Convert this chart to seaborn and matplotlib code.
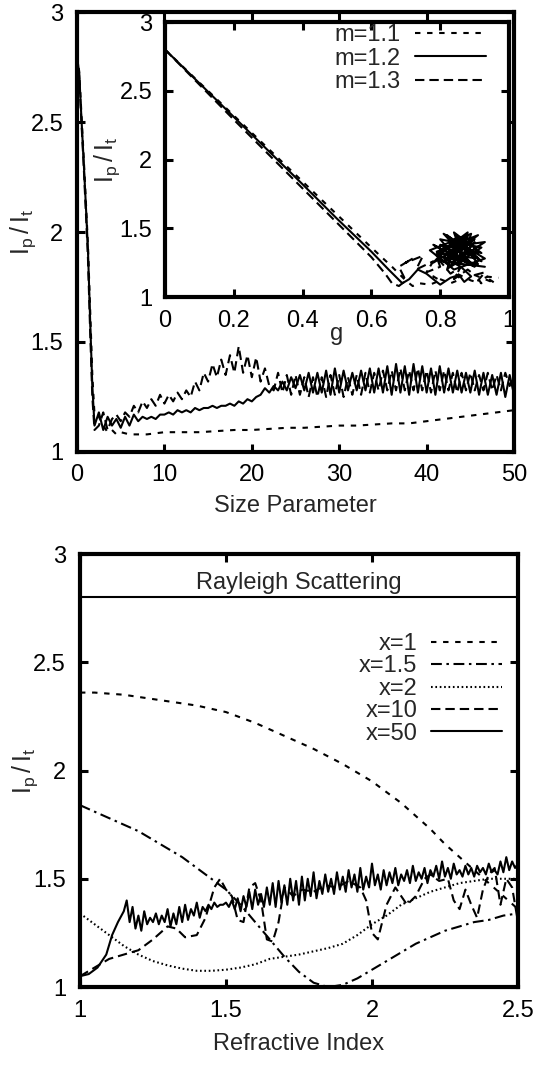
import numpy as np
import matplotlib
matplotlib.use("Agg")
import matplotlib.pyplot as plt
import seaborn as sns
from matplotlib.ticker import FuncFormatter

# ---- top panel: Ip/It vs size parameter ----
size_head = [0, 0.25, 0.5, 0.75, 1.0, 1.25, 1.5, 1.75, 2.0]
head_m11 = [2.80, 2.73, 2.54, 2.35, 2.15, 1.94, 1.65, 1.35, 1.17]
head_m12 = [2.80, 2.72, 2.52, 2.33, 2.13, 1.92, 1.60, 1.30, 1.12]
head_m13 = [2.80, 2.71, 2.50, 2.31, 2.10, 1.88, 1.55, 1.25, 1.10]

size_m11 = [2.5, 3, 3.5, 4, 4.5, 5, 6, 7, 8, 10, 12, 14, 16, 18, 20, 22, 24, 26,
            28, 30, 32, 34, 36, 38, 40, 42, 44, 46, 48, 50]
tail_m11 = [1.16, 1.12, 1.09, 1.10, 1.08, 1.09, 1.08, 1.08, 1.08, 1.09, 1.09, 1.09,
            1.095, 1.10, 1.10, 1.105, 1.11, 1.11, 1.115, 1.12, 1.12, 1.125, 1.13,
            1.13, 1.14, 1.15, 1.16, 1.17, 1.18, 1.19]

size_grid = np.arange(5, 101) / 2.0   # 2.5 ... 50, step 0.5
tail_m12 = [1.18, 1.10, 1.16, 1.12, 1.15, 1.11, 1.16, 1.12, 1.17, 1.14,
            1.16, 1.15, 1.16, 1.15, 1.17, 1.17, 1.18, 1.17, 1.19, 1.18,
            1.19, 1.18, 1.20, 1.19, 1.20, 1.20, 1.21, 1.20, 1.21, 1.21,
            1.22, 1.21, 1.23, 1.22, 1.24, 1.23, 1.25, 1.26, 1.29, 1.27,
            1.30, 1.28, 1.32, 1.28, 1.34, 1.29, 1.35, 1.28, 1.36, 1.27,
            1.36, 1.27, 1.37, 1.26, 1.38, 1.27, 1.37, 1.28, 1.36, 1.28,
            1.37, 1.28, 1.38, 1.27, 1.38, 1.27, 1.39, 1.26, 1.40, 1.27,
            1.39, 1.26, 1.40, 1.27, 1.39, 1.27, 1.38, 1.26, 1.39, 1.27,
            1.38, 1.27, 1.37, 1.27, 1.36, 1.27, 1.37, 1.26, 1.36, 1.26,
            1.35, 1.26, 1.36, 1.25, 1.35, 1.26]
tail_m13 = [1.12, 1.18, 1.10, 1.15, 1.17, 1.14, 1.18, 1.16, 1.21, 1.18,
            1.23, 1.20, 1.24, 1.21, 1.26, 1.22, 1.26, 1.23, 1.27, 1.24,
            1.28, 1.25, 1.32, 1.28, 1.36, 1.32, 1.40, 1.34, 1.42, 1.35,
            1.44, 1.36, 1.48, 1.36, 1.44, 1.34, 1.43, 1.32, 1.38, 1.30,
            1.28, 1.36, 1.27, 1.35, 1.26, 1.35, 1.26, 1.34, 1.25, 1.34,
            1.25, 1.34, 1.25, 1.35, 1.26, 1.35, 1.25, 1.34, 1.26, 1.35,
            1.26, 1.36, 1.27, 1.36, 1.28, 1.37, 1.28, 1.37, 1.28, 1.38,
            1.28, 1.37, 1.28, 1.38, 1.28, 1.37, 1.27, 1.37, 1.28, 1.37,
            1.28, 1.36, 1.27, 1.36, 1.28, 1.36, 1.28, 1.35, 1.28, 1.36,
            1.28, 1.35, 1.28, 1.36, 1.30, 1.35]

# ---- inset: Ip/It vs asymmetry parameter g ----
g_m11 = [0, 0.2, 0.4, 0.5, 0.6, 0.66, 0.70, 0.72, 0.74, 0.77, 0.80, 0.78, 0.83,
         0.86, 0.84, 0.89, 0.92, 0.90, 0.94, 0.96, 0.93, 0.97]
ip_m11 = [2.80, 2.32, 1.84, 1.60, 1.36, 1.22, 1.12, 1.08, 1.10, 1.09, 1.12, 1.15,
          1.10, 1.13, 1.18, 1.12, 1.10, 1.16, 1.12, 1.10, 1.15, 1.14]
g_m12 = [0, 0.2, 0.4, 0.5, 0.6, 0.65, 0.69, 0.71, 0.735, 0.76, 0.80, 0.83, 0.855,
         0.87, 0.89,
         0.86, 0.80, 0.85, 0.78, 0.88, 0.82, 0.91, 0.79, 0.87, 0.84,
         0.92, 0.80, 0.89, 0.83, 0.90, 0.81, 0.93, 0.85, 0.88, 0.79,
         0.91, 0.84, 0.86, 0.82, 0.92, 0.87, 0.83, 0.90, 0.85, 0.88,
         0.78, 0.90, 0.81, 0.93, 0.84, 0.77, 0.89, 0.86, 0.80, 0.92,
         0.83, 0.88, 0.79, 0.91, 0.85, 0.82, 0.90, 0.87, 0.80, 0.93]
ip_m12 = [2.80, 2.31, 1.82, 1.57, 1.33, 1.20, 1.10, 1.13, 1.20, 1.17, 1.09, 1.14,
          1.16, 1.11, 1.15,
          1.22, 1.30, 1.44, 1.25, 1.40, 1.28, 1.45, 1.33, 1.26, 1.47,
          1.32, 1.38, 1.24, 1.42, 1.30, 1.36, 1.40, 1.27, 1.44, 1.32,
          1.28, 1.40, 1.34, 1.45, 1.26, 1.38, 1.30, 1.42, 1.35, 1.25,
          1.38, 1.22, 1.46, 1.28, 1.20, 1.34, 1.46, 1.24, 1.42, 1.36,
          1.22, 1.47, 1.30, 1.24, 1.44, 1.20, 1.40, 1.30, 1.26, 1.22]
g_m13 = [0, 0.2, 0.4, 0.5, 0.6, 0.64, 0.66, 0.68, 0.70, 0.68, 0.72, 0.70, 0.75,
         0.73, 0.78, 0.76, 0.80, 0.79, 0.83, 0.86, 0.84, 0.88, 0.90, 0.93, 0.91, 0.94]
ip_m13 = [2.80, 2.29, 1.79, 1.54, 1.29, 1.17, 1.10, 1.08, 1.12, 1.22, 1.28, 1.25,
          1.30, 1.20, 1.26, 1.18, 1.22, 1.29, 1.17, 1.22, 1.13, 1.20, 1.16, 1.18,
          1.12, 1.15]

# ---- bottom panel: Ip/It vs refractive index ----
rayleigh = 2.8
ri_smooth = np.arange(20, 51) / 20.0   # 1.0 ... 2.5, step 0.05
ip_x1 = [2.36, 2.36, 2.355, 2.35, 2.34, 2.33, 2.32, 2.31, 2.30, 2.285, 2.27, 2.245,
         2.22, 2.19, 2.16, 2.13, 2.10, 2.065, 2.03, 1.99, 1.95, 1.90, 1.85, 1.79,
         1.73, 1.66, 1.60, 1.54, 1.48, 1.42, 1.36]
ip_x15 = [1.84, 1.81, 1.78, 1.75, 1.72, 1.68, 1.64, 1.60, 1.55, 1.50, 1.45, 1.38,
          1.30, 1.22, 1.14, 1.07, 1.02, 1.00, 1.01, 1.04, 1.08, 1.12, 1.16, 1.20,
          1.23, 1.26, 1.28, 1.30, 1.31, 1.33, 1.34]
ip_x2 = [1.34, 1.29, 1.24, 1.19, 1.15, 1.12, 1.10, 1.085, 1.075, 1.075, 1.08, 1.09,
         1.105, 1.13, 1.14, 1.15, 1.165, 1.18, 1.20, 1.24, 1.29, 1.33, 1.38, 1.41,
         1.44, 1.46, 1.48, 1.49, 1.50, 1.50, 1.50]
ri_x10 = [1.0, 1.05, 1.1, 1.15, 1.2, 1.25, 1.3, 1.33, 1.36, 1.4, 1.43, 1.46, 1.48,
          1.5, 1.52, 1.54, 1.56, 1.58, 1.6, 1.62, 1.64, 1.66, 1.68, 1.7, 1.73, 1.76,
          1.8, 1.84, 1.88, 1.92, 1.96, 1.98, 2.0, 2.02, 2.05, 2.08, 2.1, 2.12, 2.15,
          2.18, 2.2, 2.23, 2.26, 2.28, 2.3, 2.32, 2.34, 2.36, 2.38, 2.4, 2.42, 2.44,
          2.46, 2.48, 2.5]
ip_x10 = [1.05, 1.09, 1.13, 1.15, 1.17, 1.22, 1.28, 1.27, 1.23, 1.24, 1.32, 1.46,
          1.50, 1.45, 1.42, 1.31, 1.30, 1.46, 1.48, 1.40, 1.22, 1.21, 1.30, 1.46,
          1.42, 1.45, 1.44, 1.47, 1.46, 1.49, 1.46, 1.40, 1.25, 1.22, 1.38, 1.46,
          1.42, 1.38, 1.42, 1.50, 1.52, 1.49, 1.50, 1.40, 1.36, 1.45, 1.38, 1.32,
          1.45, 1.52, 1.55, 1.38, 1.50, 1.46, 1.30]
ri_x50_head = [1.0, 1.03, 1.06, 1.09, 1.11, 1.13]
ip_x50_head = [1.05, 1.06, 1.09, 1.15, 1.24, 1.30]
ri_x50_grid = np.arange(115, 251) / 100.0   # 1.15 ... 2.50, step 0.01
ip_x50_tail = [1.35, 1.40, 1.30, 1.37, 1.27, 1.33, 1.26, 1.35, 1.29, 1.32,
               1.30, 1.34, 1.29, 1.33, 1.30, 1.36, 1.28, 1.34, 1.29, 1.37,
               1.30, 1.38, 1.31, 1.36, 1.33, 1.39, 1.32, 1.37, 1.35, 1.38,
               1.36, 1.39, 1.37, 1.38, 1.38, 1.39, 1.37, 1.40, 1.36, 1.41,
               1.35, 1.42, 1.37, 1.44, 1.36, 1.45, 1.38, 1.43, 1.37, 1.46,
               1.38, 1.48, 1.37, 1.49, 1.39, 1.47, 1.38, 1.50, 1.40, 1.49,
               1.38, 1.51, 1.40, 1.50, 1.42, 1.53, 1.41, 1.49, 1.43, 1.52,
               1.44, 1.50, 1.43, 1.53, 1.45, 1.51, 1.44, 1.54, 1.46, 1.52,
               1.44, 1.55, 1.45, 1.51, 1.46, 1.57, 1.47, 1.52, 1.45, 1.54,
               1.47, 1.53, 1.48, 1.55, 1.47, 1.52, 1.49, 1.54, 1.48, 1.56,
               1.49, 1.53, 1.50, 1.55, 1.48, 1.54, 1.51, 1.56, 1.50, 1.58,
               1.51, 1.55, 1.50, 1.57, 1.52, 1.54, 1.51, 1.56, 1.52, 1.55,
               1.51, 1.56, 1.53, 1.55, 1.52, 1.57, 1.53, 1.54, 1.52, 1.58,
               1.53, 1.60, 1.54, 1.58, 1.55, 1.57]

# line styles (gnuplot look)
LW = 1.5
short_dash = (0, (2.6, 3.2))
long_dash = (0, (4.5, 2.4))
dash_dot = (0, (5.2, 2.2, 1.2, 2.2))
dots = (0, (0.8, 1.3))

sns.set_style("ticks")
plt.rcParams["font.family"] = ["Liberation Sans", "DejaVu Sans"]
plt.rcParams["mathtext.default"] = "regular"
FS = 17
YLAB = r"$I_p\,/\,I_t$"

fig = plt.figure(figsize=(5.39, 10.65), dpi=100)
ax1 = fig.add_axes([0.1429, 0.5756, 0.8108, 0.4131])
ax_in = fig.add_axes([0.3061, 0.7211, 0.6382, 0.2582])
ax2 = fig.add_axes([0.1484, 0.0732, 0.8126, 0.4066])

fmt = FuncFormatter(lambda v, p: "%g" % v)


def style_axes(ax, xpad, ypad):
    for s in ax.spines.values():
        s.set_linewidth(3.0)
        s.set_color("black")
        s.set_visible(True)
    ax.tick_params(direction="in", length=6, width=2.2, top=True, right=True,
                   labelsize=FS, colors="black")
    ax.tick_params(axis="x", pad=xpad)
    ax.tick_params(axis="y", pad=ypad)
    ax.xaxis.set_major_formatter(fmt)
    ax.yaxis.set_major_formatter(fmt)


def line(ax, x, y, ls, label=None):
    sns.lineplot(x=x, y=y, ax=ax, color="black", linewidth=LW, linestyle=ls,
                 estimator=None, sort=False, label=label, legend=False)


# top panel
line(ax1, size_head + size_m11, head_m11 + tail_m11, short_dash)
line(ax1, size_head + list(size_grid), head_m12 + tail_m12, "-")
line(ax1, size_head + list(size_grid), head_m13 + tail_m13, long_dash)
ax1.set_xlim(0, 50)
ax1.set_ylim(1, 3)
ax1.set_xticks([0, 10, 20, 30, 40, 50])
ax1.set_yticks([1, 1.5, 2, 2.5, 3])
style_axes(ax1, 9, 10)
ax1.set_xlabel("Size Parameter", fontsize=FS, labelpad=6)
ax1.set_ylabel(YLAB, fontsize=FS + 1)
ax1.yaxis.set_label_coords(-0.089, 0.5)

# inset
ax_in.set_facecolor("white")
line(ax_in, g_m11, ip_m11, short_dash, "m=1.1")
line(ax_in, g_m12, ip_m12, "-", "m=1.2")
line(ax_in, g_m13, ip_m13, long_dash, "m=1.3")
ax_in.set_xlim(0, 1)
ax_in.set_ylim(1, 3)
ax_in.set_xticks([0, 0.2, 0.4, 0.6, 0.8, 1])
ax_in.set_yticks([1, 1.5, 2, 2.5, 3])
style_axes(ax_in, 9, 9)
ax_in.set_xlabel("g", fontsize=FS, labelpad=-6)
ax_in.set_ylabel(YLAB, fontsize=FS + 1)
ax_in.yaxis.set_label_coords(-0.125, 0.5)
ax_in.legend(loc="upper right", bbox_to_anchor=(0.94, 1.0), frameon=False,
             markerfirst=False, fontsize=FS, handlelength=3.0,
             handletextpad=0.6, labelspacing=0.05, borderaxespad=0, borderpad=0.1)

# bottom panel
ax2.axhline(rayleigh, color="black", linewidth=LW)
ax2.text(1.75, rayleigh + 0.015, "Rayleigh Scattering", ha="center", va="bottom",
         fontsize=FS)
line(ax2, list(ri_smooth), ip_x1, short_dash, "x=1")
line(ax2, list(ri_smooth), ip_x15, dash_dot, "x=1.5")
line(ax2, list(ri_smooth), ip_x2, dots, "x=2")
line(ax2, ri_x10, ip_x10, long_dash, "x=10")
line(ax2, ri_x50_head + list(ri_x50_grid), ip_x50_head + ip_x50_tail, "-", "x=50")
ax2.set_xlim(1, 2.5)
ax2.set_ylim(1, 3)
ax2.set_xticks([1, 1.5, 2, 2.5])
ax2.set_yticks([1, 1.5, 2, 2.5, 3])
style_axes(ax2, 9, 10)
ax2.set_xlabel("Refractive Index", fontsize=FS, labelpad=8)
ax2.set_ylabel(YLAB, fontsize=FS + 1)
ax2.yaxis.set_label_coords(-0.092, 0.5)
ax2.legend(loc="upper right", bbox_to_anchor=(0.963, 0.818), frameon=False,
           markerfirst=False, fontsize=FS, handlelength=3.0,
           handletextpad=0.57, labelspacing=0.02, borderaxespad=0, borderpad=0)

fig.savefig("out.png", dpi=100)
